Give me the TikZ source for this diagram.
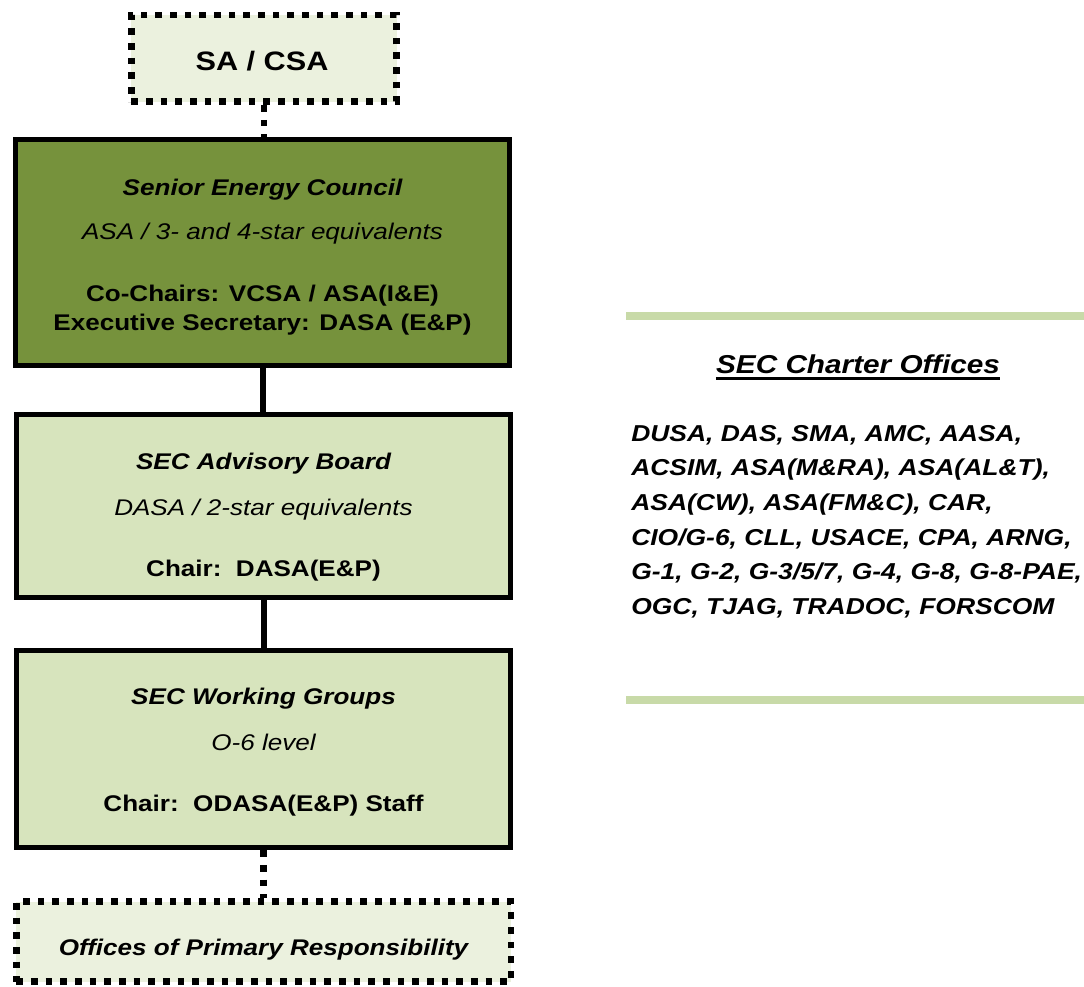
\documentclass[tikz,border=0pt]{standalone}
\usepackage{fontspec}
\setmainfont[FakeStretch=1.15]{Liberation Sans}
\usetikzlibrary{positioning}

\definecolor{darkolive}{HTML}{76923C}
\definecolor{paleolive}{HTML}{D7E4BD}
\definecolor{mistolive}{HTML}{EBF1DE}
\definecolor{barolive}{HTML}{C8DAA8}

\begin{document}
\begin{tikzpicture}[x=0.75pt,y=-0.75pt]
\tikzset{OrgBox/.style = {rectangle, draw=black, line width=3.75pt, inner sep=0pt, minimum width=371pt}}
\tikzset{CapBox/.style = {rectangle, draw=black, line width=5pt, dash pattern=on 5pt off 6pt, fill=mistolive, inner sep=0pt}}
\tikzstyle{boxtitle}=[anchor=base, inner sep=0pt, font=\fontsize{17}{20}\selectfont\bfseries\itshape]
\tikzstyle{boxsub}=[anchor=base, inner sep=0pt, font=\fontsize{17}{20}\selectfont\itshape]
\tikzstyle{boxchair}=[anchor=base, inner sep=0pt, font=\fontsize{17}{20}\selectfont\bfseries]
\tikzstyle{solidlink}=[line width=4.5pt]
\tikzstyle{dotlink}=[line width=5pt, dash pattern=on 5pt off 6pt]

\useasboundingbox (0,0) rectangle (1084,987);

% boxes
\node[CapBox, minimum width=199pt, minimum height=65pt] (sacsa) at (264,58.5) {};
\node[OrgBox, fill=darkolive, minimum height=169.5pt] (council) at (262.5,252.5) {};
\node[OrgBox, fill=paleolive, minimum height=137pt] (advisory) at (263.5,506) {};
\node[OrgBox, fill=paleolive, minimum height=148pt] (groups) at (263.5,749) {};
\node[CapBox, minimum width=371pt, minimum height=60pt] (opr) at (263.5,941.5) {};

% links
\draw[dotlink] (sacsa.south) -- (sacsa.south |- council.north);
\draw[solidlink] (council.south) -- (council.south |- advisory.north);
\draw[solidlink] (advisory.south) -- (advisory.south |- groups.north);
\draw[dotlink] (groups.south) -- (groups.south |- opr.north);

% box texts
\node[anchor=base, inner sep=0pt, font=\fontsize{20}{24}\selectfont\bfseries] (sacsatext) at (262,71) {SA / CSA};

\node[boxtitle] (counciltitle) at (262.5,196) {Senior Energy Council};
\node[boxsub] (councilsub) at (262.5,240) {ASA / 3- and 4-star equivalents};
\node[boxchair] (councilchair) at (262.5,302) {Co-Chairs: VCSA / ASA(I\&E)};
\node[boxchair] (councilsec) at (262.5,330) {Executive Secretary: DASA (E\&P)};

\node[boxtitle] (advisorytitle) at (263.5,469) {SEC Advisory Board};
\node[boxsub] (advisorysub) at (263.5,515) {DASA / 2-star equivalents};
\node[boxchair] (advisorychair) at (263.5,576) {Chair:\ \ DASA(E\&P)};

\node[boxtitle] (groupstitle) at (263.5,704) {SEC Working Groups};
\node[boxsub] (groupssub) at (263.5,750) {O-6 level};
\node[boxchair] (groupschair) at (263.5,811) {Chair:\ \ ODASA(E\&P) Staff};

\node[boxtitle] (oprtext) at (263.5,955) {Offices of Primary Responsibility};

% charter offices
\draw[barolive, line width=6pt] (626,316) -- (1084,316);
\draw[barolive, line width=6pt] (626,700) -- (1084,700);

\node[anchor=base, inner sep=0pt, font=\fontsize{19.4}{22}\selectfont\bfseries\itshape] (charter) at (858,373) {SEC Charter Offices};
\draw[line width=2pt] ([yshift=-4pt]charter.base west) -- ([yshift=-4pt]charter.base east);

\node[anchor=north west, align=left, inner sep=0pt, font=\fontsize{17.25}{26}\selectfont\bfseries\itshape] (offices) at (631,425) {DUSA, DAS, SMA, AMC, AASA,\\ACSIM, ASA(M\&RA), ASA(AL\&T),\\ASA(CW), ASA(FM\&C), CAR,\\CIO/G-6, CLL, USACE, CPA, ARNG,\\G-1, G-2, G-3/5/7, G-4, G-8, G-8-PAE,\\OGC, TJAG, TRADOC, FORSCOM};

\end{tikzpicture}
\end{document}
